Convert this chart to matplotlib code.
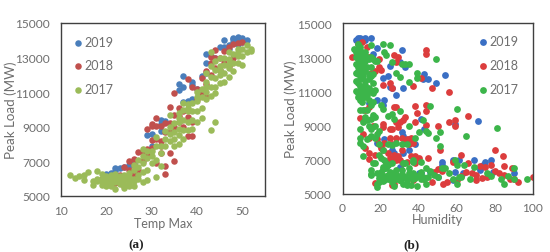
import matplotlib
matplotlib.use("Agg")
import matplotlib.pyplot as plt

YEARS = ["2019", "2018", "2017"]

temp_2019 = [20, 21, 22, 22, 23, 24, 25, 26, 29, 30, 32, 32, 33, 32, 30, 36, 36, 37, 37, 37, 38, 39, 39, 39, 40,
             41, 42, 42, 42, 43, 44, 45, 46, 46, 47, 48, 48, 48, 49, 49, 50, 50, 51, 47, 49]
load_2019 = [6250, 6350, 6600, 6450, 6600, 6700, 6800, 6900, 8500, 8600, 9400, 8750, 9350, 9150, 7900, 11500, 11150, 11950, 11300, 10450,
             10500, 11600, 11400, 10600, 11200, 11950, 13200, 12700, 12100, 13100, 13000, 13600, 13600, 14000, 13700, 14100, 13900, 14150, 14200, 14000, 14150, 13900, 14000, 13500, 13800]

temp_2018 = [19, 20, 21, 21, 22, 23, 24, 24, 25, 25, 25, 26, 26, 26, 27, 27, 28, 28, 29, 29, 29, 30, 30, 30, 31,
             31, 31, 32, 32, 32, 33, 33, 33, 33, 34, 34, 34, 35, 35, 35, 35, 36, 36, 37, 37, 38, 38, 38, 39, 39,
             39, 40, 41, 41, 42, 42, 42, 43, 43, 44, 44, 45, 45, 46, 46, 47, 47, 48, 48, 49, 50, 43,
             28, 30, 31, 32, 34, 36, 40, 44]
load_2018 = [6000, 5900, 5650, 6100, 5750, 6200, 5550, 6700, 6000, 6500, 7000, 6250, 6800, 7150, 7550, 6500, 7000, 7500, 8900, 7700, 7400, 9150, 8250, 7800, 9500,
             9050, 6900, 9050, 8200, 7500, 9200, 8700, 6750, 6300, 10150, 9200, 7500, 10950, 9700, 9000, 7050, 10100, 9300, 9900, 9000, 11750, 9550, 8450, 11300, 9300,
             8450, 11200, 11800, 10900, 12200, 11500, 10700, 12700, 12000, 13450, 13000, 13000, 12300, 13400, 12700, 13600, 12500, 13800, 13000, 13850, 13900, 13050,
             7600, 9050, 8300, 7900, 8700, 9600, 10600, 12400]

temp_2017 = [12, 13, 14, 15, 15, 16, 17, 17, 18, 18, 18, 19, 19, 19, 20, 20, 20, 21, 21, 21, 22, 22, 22, 22, 23,
             23, 23, 24, 24, 24, 24, 25, 25, 25, 25, 26, 26, 26, 26, 27, 27, 27, 28, 28, 28, 28, 28, 29, 29, 29,
             29, 30, 30, 31, 31, 31, 31, 32, 32, 32, 33, 33, 34, 34, 35, 35, 35, 35, 36, 36, 36, 36, 36, 37, 37,
             37, 37, 37, 38, 38, 38, 38, 39, 39, 39, 39, 40, 40, 40, 40, 41, 41, 41, 41, 42, 42, 42, 42, 43, 43,
             43, 43, 43, 43, 44, 44, 44, 44, 44, 44, 45, 45, 45, 45, 46, 46, 46, 46, 47, 47, 47, 47, 48, 48, 48,
             49, 49, 49, 50, 50, 50, 51, 51, 52, 52,
             19, 20, 21, 22, 23, 24, 25, 26, 27, 30, 33, 34, 34, 36, 38, 40, 42, 45, 47, 49]
load_2017 = [6200, 6050, 6150, 6200, 5900, 6400, 5850, 5650, 6450, 6000, 5850, 5650, 6000, 6300, 5550, 5800, 6050, 5750, 6000, 6200, 5400, 5800, 6000, 6250, 5700,
             5950, 6150, 5450, 5650, 5900, 6200, 5600, 5850, 6100, 6350, 5600, 6000, 6500, 6800, 6200, 6700, 7100, 5800, 6400, 6900, 7300, 7700, 5950, 6500, 7200,
             7600, 6900, 7300, 6100, 7100, 7900, 8400, 6750, 7500, 7900, 7900, 8300, 8600, 9700, 7900, 8300, 8700, 9200, 8000, 8500, 8900, 9300, 9800, 8300, 8800,
             9400, 10000, 10400, 8800, 9300, 9900, 10300, 8850, 9400, 9900, 10400, 9300, 9900, 10500, 11000, 9500, 10100, 10700, 11200, 10600, 11000, 11600, 12100, 8800, 10800,
             11300, 11900, 12500, 13300, 9250, 10950, 11300, 11800, 12300, 12800, 11550, 12000, 12500, 13000, 11600, 12100, 12600, 13000, 11900, 12400, 12900, 13300, 12200, 12700, 13200,
             12700, 13100, 13500, 12600, 13100, 13500, 13300, 13700, 13400, 13500,
             5850, 6150, 5600, 6100, 5850, 6050, 5750, 5850, 6000, 7600, 8750, 8200, 9000, 9500, 10100, 10700, 11300, 12300, 12650, 13300]

hum_2019 = [7, 8, 9, 8, 12, 12, 15, 18, 31, 16, 30, 25, 33, 21, 24, 25, 26, 32, 28, 18, 22, 21, 14, 43, 42,
            45, 49, 54, 41, 59, 71, 43, 31, 32, 35, 38, 18, 22, 27, 32, 35, 26, 30, 40, 41, 46, 52, 52, 58, 61,
            59, 63, 69, 72, 74, 75, 78, 79, 90, 72, 58, 50]
hload_2019 = [14000, 14150, 14100, 13950, 14150, 14000, 14150, 13550, 13450, 13200, 12700, 12500, 12400, 11800, 11900, 11250, 11200, 11200, 10800, 10500, 10500, 10200, 10300, 12000, 11700,
              11700, 11500, 11950, 9400, 9100, 9250, 8800, 8600, 8400, 8200, 7950, 8000, 8200, 7400, 7400, 7600, 7600, 6600, 6250, 6200, 6300, 6900, 6700, 7000, 7000,
              6300, 6200, 7000, 6500, 6700, 6850, 7000, 6300, 6200, 6400, 5800, 6000]

hum_2018 = [5, 8, 10, 13, 14, 19, 17, 19, 20, 15, 27, 29, 28, 44, 44, 25, 21, 26, 37, 41, 47, 56, 12, 14, 27,
            28, 38, 44, 44, 33, 32, 28, 30, 9, 16, 21, 21, 25, 26, 34, 36, 28, 25, 11, 14, 19, 20, 21, 38, 39,
            44, 50, 56, 59, 59, 66, 25, 26, 28, 29, 30, 32, 34, 38, 45, 51, 12, 14, 17, 14, 38, 80, 84, 62, 66,
            72, 75, 78, 85, 89, 58, 48, 50, 52, 55, 53, 60, 62, 65, 68, 70, 70, 73, 76, 80, 82, 85, 88, 90, 92,
            100, 47, 26, 27, 17, 43, 37, 30,
            18, 22, 24, 26, 29, 31, 33, 35, 37, 40, 23, 27, 31, 36]
hload_2018 = [13000, 13800, 13900, 13600, 13000, 12900, 12200, 12400, 12250, 12100, 13100, 13000, 12700, 13400, 13200, 11500, 11350, 11200, 11300, 11800, 11200, 10950, 9900, 10100, 10100,
              10100, 10150, 10200, 9850, 9500, 9350, 9200, 9200, 9450, 9000, 9100, 8900, 8800, 8800, 8200, 8300, 8300, 8300, 8500, 8300, 7900, 7700, 7600, 9200, 9750,
              9050, 9000, 9200, 9350, 8950, 9550, 7100, 7000, 7000, 7200, 7000, 6800, 6900, 7200, 7100, 7600, 7700, 7400, 7300, 7050, 6800, 7550, 7200, 7300, 6800,
              6650, 6600, 6700, 6650, 6500, 6900, 6300, 6450, 6350, 5700, 5600, 5800, 6050, 6300, 6200, 6100, 5800, 5950, 6000, 6350, 6250, 6100, 5900, 5850, 5700,
              6000, 5700, 5550, 5600, 5650, 5900, 5800, 5800,
              8200, 8000, 7400, 7900, 8900, 8300, 8000, 7900, 8000, 7100, 6900, 7300, 7600, 7200]

hum_2017 = [6, 7, 7, 7, 7, 7, 7, 8, 8, 8, 8, 8, 8, 8, 9, 9, 9, 9, 9, 9, 9, 10, 10, 10, 10,
            10, 10, 11, 11, 11, 11, 12, 12, 12, 12, 13, 13, 13, 14, 14, 14, 15, 15, 15, 15, 15, 16, 16, 16, 17,
            17, 18, 21, 22, 23, 25, 26, 28, 30, 33, 35, 31, 35, 39, 39, 60, 81, 65, 49, 21, 20, 9, 9, 9, 11,
            12, 13, 14, 15, 16, 17, 18, 19, 24, 26, 27, 30, 35, 40, 42, 44, 45, 46, 49, 51, 9, 11, 13, 15, 17,
            24, 26, 28, 31, 34, 38, 51, 59, 11, 16, 20, 22, 32, 37, 37, 41, 15, 17, 19, 21, 24, 26, 28, 33, 35,
            15, 18, 20, 22, 24, 26, 28, 30, 34, 36, 38, 40, 42, 44, 46, 48, 50, 52, 54, 56, 58, 60, 62, 64, 67,
            69, 76, 78, 83, 85, 87, 90, 90, 97, 18, 19, 20, 22, 24, 26, 28, 30, 32, 34, 37, 39, 43, 45, 15, 18,
            21, 24, 27, 30, 33, 36, 41, 44, 61, 60, 25, 23, 21, 19, 27, 29, 31,
            8, 9, 10, 11, 12, 13, 14, 15, 16, 8, 10, 12, 14, 16, 11, 13, 15, 17, 19, 21, 23, 25, 27, 29, 31, 33, 35, 37, 39, 41]
hload_2017 = [13500, 13300, 13000, 12600, 12100, 11600, 11000, 13800, 13400, 12900, 12400, 12000, 11500, 10700, 13600, 13100, 12700, 12200, 11700, 11000, 10500, 13300, 12800, 12300, 11900,
              11200, 10400, 13000, 12600, 11900, 11300, 13300, 12800, 12200, 11600, 13000, 12400, 11000, 12900, 12000, 11200, 13700, 13000, 12400, 11000, 10200, 12900, 11500, 10900, 12800,
              11100, 12800, 13750, 13300, 13100, 13700, 12700, 12100, 11850, 12600, 11550, 12600, 12600, 12100, 11800, 10000, 8850, 8400, 12900, 10000, 10200, 9900, 8800, 8300, 9200,
              9500, 9300, 9000, 8800, 9600, 9500, 8500, 8700, 9550, 9700, 9400, 9850, 8950, 8650, 9300, 8700, 8550, 10150, 8300, 8600, 8000, 7800, 8200, 8400, 8300,
              7900, 7850, 8000, 7900, 7900, 8250, 7800, 7000, 7200, 6800, 7100, 7000, 6800, 7000, 6900, 6900, 6150, 6800, 7300, 6600, 6700, 6800, 6400, 6800, 6500,
              6100, 6200, 6100, 6050, 5950, 6000, 6100, 5950, 5800, 6000, 5950, 6100, 6000, 6500, 6350, 6100, 6000, 6500, 6500, 6200, 5900, 6700, 6000, 6700, 5900,
              6600, 6200, 6050, 5900, 5600, 6050, 6500, 5900, 5900, 5400, 5700, 6300, 5800, 6100, 5700, 5900, 5800, 5600, 5550, 6200, 5450, 5900, 6000, 6400,
              5600, 5750, 5850, 6200, 5800, 6000, 5550, 6300, 5600, 6000, 5600, 6100, 6800, 6450, 5950, 5450, 6050, 6400,
              12200, 11300, 12000, 10800, 11400, 10800, 11700, 11900, 12000, 10900, 11000, 10700, 10500, 10400, 9900, 9900, 9400, 9000, 7900, 7600, 6500, 6300, 6100, 6000, 6150, 6000, 6200, 5900, 6050, 5850]

TEXT_COLOR = "#6e6e6e"

plt.rcParams["font.family"] = "Lato"

figure = plt.figure(figsize=(5.5, 2.53), dpi=100)


def add_panel(position, xs, ys, colors, xlim, xticks, xlabel, legend_anchor, spacing, size, pad_x, label_x, labelpad):
    axis = figure.add_axes(position)
    for x, y, color, year in zip(xs, ys, colors, YEARS):
        axis.scatter(x, y, s=size, color=color, linewidths=0, label=year)
    axis.set_xlim(*xlim)
    axis.set_ylim(5000, 15000)
    axis.set_xticks(xticks)
    axis.set_yticks(range(5000, 15001, 2000))
    axis.tick_params(axis="y", length=0, labelsize=8.6, labelcolor=TEXT_COLOR, pad=8)
    axis.tick_params(axis="x", length=0, labelsize=8.6, labelcolor=TEXT_COLOR, pad=pad_x)
    axis.set_xlabel(xlabel, fontsize=9, color=TEXT_COLOR, labelpad=labelpad)
    axis.set_ylabel("Peak Load (MW)", fontsize=9.6, color=TEXT_COLOR)
    axis.yaxis.set_label_coords(label_x, 0.5)
    for spine in axis.spines.values():
        spine.set_color("#404040")
        spine.set_linewidth(1.0)
    legend = axis.legend(
        loc="upper left",
        bbox_to_anchor=legend_anchor,
        frameon=False,
        fontsize=9,
        labelspacing=spacing,
        handlelength=1.0,
        handletextpad=0.0,
        borderpad=0,
        borderaxespad=0,
    )
    for text in legend.get_texts():
        text.set_color(TEXT_COLOR)
    return axis


add_panel(
    [61 / 550, 1 - 197 / 253, 204 / 550, 173 / 253],
    [temp_2019, temp_2018, temp_2017],
    [load_2019, load_2018, load_2017],
    ["#4a7ebb", "#c0504d", "#9bbb59"],
    (10, 55),
    [10, 20, 30, 40, 50],
    "Temp Max",
    (0.054, 0.925),
    0.92,
    22,
    6.5,
    -0.215,
    1,
)
add_panel(
    [342.5 / 550, 1 - 195 / 253, 190.5 / 550, 171 / 253],
    [hum_2019, hum_2018, hum_2017],
    [hload_2019, hload_2018, hload_2017],
    ["#3a6fc4", "#dc3d3d", "#3cb54a"],
    (0, 100),
    [0, 20, 40, 60, 80, 100],
    "Humidity",
    (0.706, 0.93),
    0.98,
    24,
    5.5,
    -0.24,
    0,
)

figure.text(136 / 550, 1 - 245 / 253, "(a)", family="Liberation Serif", fontweight="bold",
            fontsize=9.5, ha="center", va="center", color="#222222")
figure.text(412 / 550, 1 - 245 / 253, "(b)", family="Liberation Serif", fontweight="bold",
            fontsize=9.5, ha="center", va="center", color="#222222")

figure.savefig("out.png", dpi=100)
